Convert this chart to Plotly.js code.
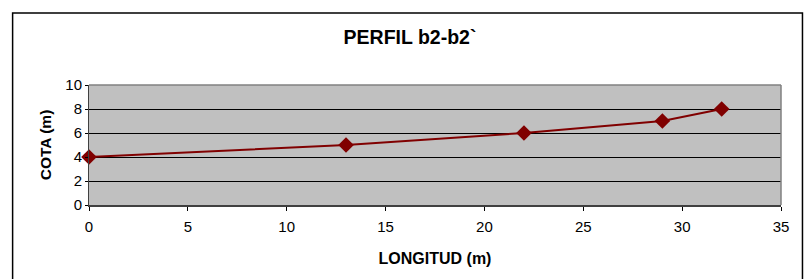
<!DOCTYPE html>
<html><head><meta charset="utf-8">
<script src="https://cdn.plot.ly/plotly-3.0.1.min.js"></script>
<style>body{margin:0;padding:0;background:#fff}#c{width:804px;height:279px}</style>
</head><body><div id="c"></div>
<script>
const longitud = [0, 13, 22, 29, 32];
const cota = [4, 5, 6, 7, 8];
const xTicks = [0, 5, 10, 15, 20, 25, 30, 35];
const yTicks = [0, 2, 4, 6, 8, 10];

const W = 804, H = 279;
const L = 88.5, R = 22.5, T = 85, B = 74;
const pw = W - L - R, ph = H - T - B;
const px = v => (v - L) / pw;
const py = v => 1 - (v - T) / ph;

const trace = {
  x: longitud, y: cota, type: 'scatter', mode: 'lines+markers',
  line: {color: '#800000', width: 2},
  marker: {symbol: 'diamond', size: 12, color: '#800000'},
  cliponaxis: false, hoverinfo: 'none'
};
const layout = {
  width: W, height: H,
  margin: {l: L, r: R, t: T, b: B, pad: 0},
  paper_bgcolor: '#fff', plot_bgcolor: '#C0C0C0',
  showlegend: false,
  font: {family: 'Liberation Sans, Arial, sans-serif', size: 15, color: '#000'},
  title: {text: '<b>PERFIL b2-b2`</b>', font: {size: 19.5, family: 'Liberation Sans, Arial, sans-serif'},
          x: 410 / W, xanchor: 'center', y: 1 - 37 / H, yanchor: 'middle'},
  xaxis: {range: [0, 35], tickvals: xTicks, ticktext: xTicks.map(String),
          showgrid: false, zeroline: false, showline: true, linecolor: '#404040', linewidth: 2,
          ticks: 'outside', ticklen: 4, tickcolor: '#000', tickwidth: 1,
          tickfont: {size: 15}, ticklabelstandoff: 3,
          title: {text: '<b>LONGITUD (m)</b>', font: {size: 16}, standoff: 19}},
  yaxis: {range: [0, 10], tickvals: yTicks, ticktext: yTicks.map(String),
          showgrid: true, gridcolor: '#000', gridwidth: 1, zeroline: false,
          showline: true, linecolor: '#404040', linewidth: 1,
          ticks: 'outside', ticklen: 3, tickcolor: '#000',
          tickfont: {size: 15},
          title: {text: '<b>COTA (m)</b>', font: {size: 15.5}, standoff: 9}},
  shapes: [
    {type: 'rect', xref: 'paper', yref: 'paper', x0: px(12), x1: px(803), y0: py(13), y1: py(282),
     line: {color: '#000', width: 1.5}, fillcolor: 'rgba(0,0,0,0)', layer: 'below'},
    {type: 'line', xref: 'paper', yref: 'paper', x0: 1, x1: 1, y0: 0, y1: 1,
     line: {color: '#808080', width: 1.5}},
    {type: 'line', xref: 'paper', yref: 'paper', x0: 0, x1: 1, y0: 1, y1: 1,
     line: {color: '#808080', width: 1.5}}
  ]
};
Plotly.newPlot('c', [trace], layout, {staticPlot: true});
</script></body></html>
